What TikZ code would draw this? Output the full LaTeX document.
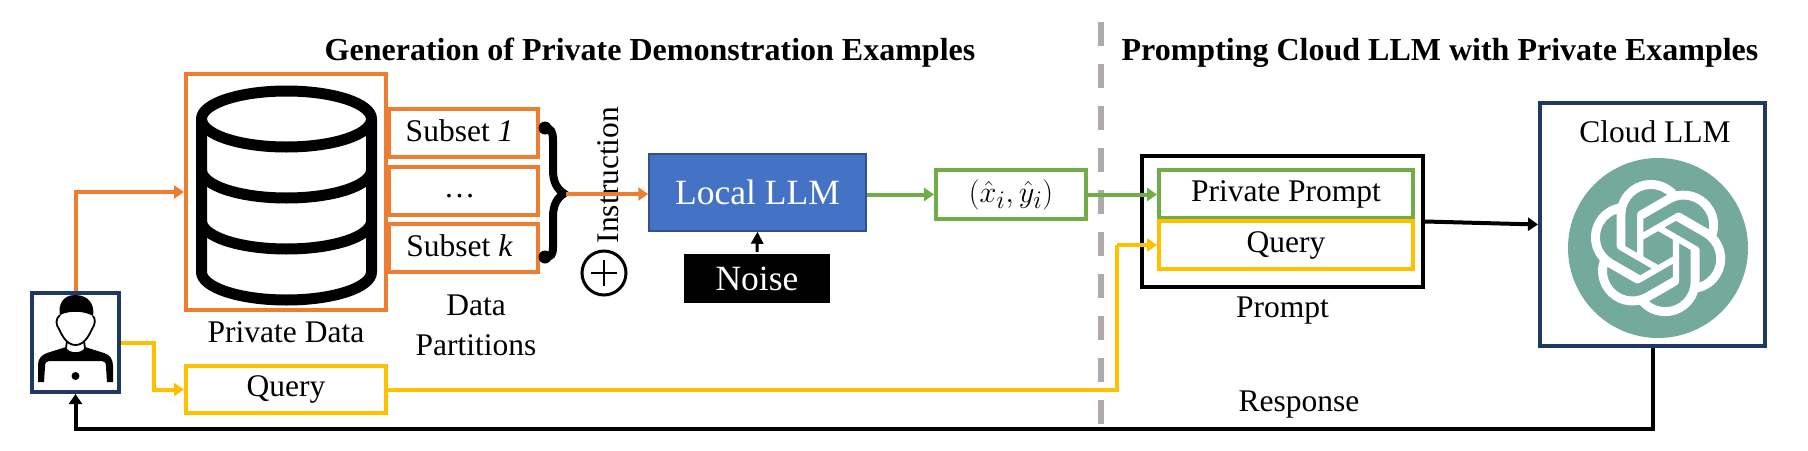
\documentclass[tikz,border=0pt]{standalone}
\usepackage{fontspec}
\setmainfont{Liberation Serif}
\usetikzlibrary{positioning,matrix,arrows.meta,svg.path}
\definecolor{partorange}{HTML}{ED7D31}
\definecolor{querygold}{HTML}{FFC000}
\definecolor{privgreen}{HTML}{70AD47}
\definecolor{boxnavy}{HTML}{1F3864}
\definecolor{llmblue}{HTML}{4472C4}
\definecolor{llmedge}{HTML}{2F528F}
\definecolor{logogreen}{HTML}{74AA9C}
\definecolor{splitgray}{HTML}{AFABAB}
\tikzset{
    flow box/.style={
        rectangle,
        line width=4pt,
        inner sep=0pt,
        align=center,
        font=\fontsize{31.5}{36}\selectfont
    },
    subset box/.style={flow box, draw=partorange, minimum width=149pt, minimum height=48pt, text height=22pt, text depth=6pt},
    plain label/.style={font=\fontsize{31.5}{38}\selectfont, align=center, inner sep=0pt},
    title label/.style={font=\fontsize{32}{36}\selectfont\bfseries, inner sep=0pt, anchor=base},
    big label/.style={font=\fontsize{35.5}{40}\selectfont, text=white, inner sep=0pt, align=center},
    flow arrow/.style={line width=4pt, -{Triangle[length=10pt,width=13pt]}},
    flow line/.style={line width=4pt}
}

\begin{document}
\begin{tikzpicture}[x=1pt,y=-1pt]
\useasboundingbox (0,0) rectangle (1808,450);

% Titles and the dashed split
\node[title label] (gentitle) at (650,60) {Generation of Private Demonstration Examples};
\node[title label] (cloudtitle) at (1440,60) {Prompting Cloud LLM with Private Examples};
\draw[splitgray, line width=6pt, dash pattern=on 24pt off 18pt] (1100.5,22) -- (1100.5,424);

% User
\node[flow box, draw=boxnavy, minimum width=87pt, minimum height=99pt] (user) at (75.5,342.5) {};
\fill (60,315) .. controls (58,306) and (62,295) .. (75,295) .. controls (89,295) and (95,305) .. (93,316)
    .. controls (85,311) and (70,310) .. (60,315) -- cycle;
\draw[line width=1.8pt] (60,315) .. controls (55,319) and (56,325) .. (59,329) .. controls (63,338) and (68,345) .. (75.5,345)
    .. controls (83,345) and (88,338) .. (92,329) .. controls (95,325) and (96,319) .. (93,316);
\draw[line width=1.8pt] (67,341) -- (66,348) (84,341) -- (85,348);
\fill (38,382) -- (38,365) .. controls (38,358) and (42,355) .. (47,353) -- (66,347)
    .. controls (68,354) and (83,354) .. (85,347) -- (104,353) .. controls (110,355) and (113,359) .. (113,366)
    -- (113,382) -- (107,382) -- (106,367) .. controls (106,363) and (105,361) .. (102,361)
    -- (49,361) .. controls (46,361) and (45,363) .. (45,367) -- (44,382) -- cycle;
\fill (75.5,376) circle (4);

% Private data
\node[flow box, draw=partorange, minimum width=200pt, minimum height=236pt] (data) at (286,192) {};
\node[plain label, below=9pt of data] (datalabel) {Private Data};
\draw[line width=11pt] (286.5,119) ellipse (85 and 28);
\draw[line width=11pt] (201.5,119) -- (201.5,272) arc[start angle=180, end angle=360, x radius=85, y radius=-28] -- (371.5,119);
\draw[line width=11pt] (201.5,170) arc[start angle=180, end angle=360, x radius=85, y radius=-28];
\draw[line width=11pt] (201.5,221) arc[start angle=180, end angle=360, x radius=85, y radius=-28];

% Data partitions
\matrix[matrix of nodes, row sep=5.5pt, nodes={subset box}, inner sep=0pt] (parts) at (463.5,190.5) {
    Subset \textit{1} \\
    \raisebox{1.5pt}{\ldots} \\
    Subset \textit{k} \\
};
\node[plain label] (partlabel) at (476,325) {Data\\[2pt]Partitions};
\draw[line width=8pt, line join=miter, miter limit=20] (545,128) .. controls (551,128) and (553,132) .. (553,140) -- (553,170)
    .. controls (553,182) and (557,189) .. (564,193.5) .. controls (557,198) and (553,205) .. (553,217) -- (553,247)
    .. controls (553,255) and (551,257) .. (545,257);
\fill (545,128) circle (6.5) (545,257) circle (6.5);
\coordinate (bracetip) at (566,194);

% Instruction
\node[plain label, rotate=90] (instr) at (608,175) {Instruction};
\node[circle, draw, line width=3pt, minimum size=44pt, inner sep=0pt] (plus) at (604,273) {};
\draw[line width=2.5pt] ([yshift=-13pt]plus.center) -- ([yshift=13pt]plus.center) ([xshift=-13pt]plus.center) -- ([xshift=13pt]plus.center);

% Local model
\node[flow box, big label, fill=llmblue, draw=llmedge, line width=1.5pt, minimum width=217pt, minimum height=77pt] (local) at (757.5,192.5) {Local LLM};
\node[flow box, big label, fill=black, minimum width=146pt, minimum height=49pt] (noise) at (757,278.5) {Noise};
\node[flow box, draw=privgreen, minimum width=150pt, minimum height=49pt] (pair) at (1011,194.5) {\scalebox{1.22}{$(\hat{x}_i,\hat{y}_i)$}};

% Query
\node[flow box, draw=querygold, minimum width=200pt, minimum height=47pt] (query) at (286,389.5) {Query};

% Prompt
\node[flow box, draw=black, minimum width=281pt, minimum height=131pt] (prompt) at (1282.5,221.5) {};
\node[flow box, draw=privgreen, minimum width=254pt, minimum height=48pt] (private) at (1286,194) {Private Prompt};
\node[flow box, draw=querygold, minimum width=254pt, minimum height=48pt] (promptquery) at (1286,245) {Query};
\node[plain label, below=8pt of prompt] (promptlabel) {Prompt};

% Cloud
\node[flow box, draw=boxnavy, minimum width=225pt, minimum height=243pt] (cloud) at (1652.5,224.5) {};
\node[plain label] (cloudlabel) at (1655,132) {Cloud LLM};
\node[circle, fill=logogreen, minimum size=180pt, inner sep=0pt] (logo) at (1658,248) {};
\begin{scope}[shift={(1590,180)}, xscale=5.67, yscale=-5.67]
\fill[white, even odd rule] svg {M22.2819 9.8211a5.9847 5.9847 0 0 0-.5157-4.9108 6.0462 6.0462 0 0 0-6.5098-2.9A6.0651 6.0651 0 0 0 4.9807 4.1818a5.9847 5.9847 0 0 0-3.9977 2.9 6.0462 6.0462 0 0 0 .7427 7.0966 5.98 5.98 0 0 0 .511 4.9107 6.051 6.051 0 0 0 6.5146 2.9001A5.9847 5.9847 0 0 0 13.2599 24a6.0557 6.0557 0 0 0 5.7718-4.2058 5.9894 5.9894 0 0 0 3.9977-2.9001 6.0557 6.0557 0 0 0-.7475-7.0729z
M13.2599 22.4292a4.4755 4.4755 0 0 1-2.8764-1.0408l.1419-.0804 4.7783-2.7582a.7948.7948 0 0 0 .3927-.6813v-6.7369l2.02 1.1686a.071.071 0 0 1 .038.052v5.5826a4.504 4.504 0 0 1-4.4945 4.4944z
M3.5992 18.3038a4.4708 4.4708 0 0 1-.5346-3.0137l.142.0852 4.783 2.7582a.7712.7712 0 0 0 .7806 0l5.8428-3.3685v2.3324a.0804.0804 0 0 1-.0332.0615L9.74 19.9502a4.4992 4.4992 0 0 1-6.1408-1.6464z
M2.3408 7.8956a4.485 4.485 0 0 1 2.3655-1.9728V11.6a.7664.7664 0 0 0 .3879.6765l5.8144 3.3543-2.0201 1.1685a.0757.0757 0 0 1-.071 0l-4.8303-2.7865A4.504 4.504 0 0 1 2.3408 7.872z
M18.9371 11.7514L13.1038 8.364 15.1192 7.2a.0757.0757 0 0 1 .071 0l4.8303 2.7913a4.4944 4.4944 0 0 1-.6765 8.1042v-5.6772a.79.79 0 0 0-.407-.667z
M20.9478 8.7283l-.142-.0852-4.7735-2.7818a.7759.7759 0 0 0-.7854 0L9.409 9.2297V6.8974a.0662.0662 0 0 1 .0284-.0615l4.8303-2.7866a4.4992 4.4992 0 0 1 6.6802 4.66z
M8.3065 12.863l-2.02-1.1638a.0804.0804 0 0 1-.038-.0567V6.0742a4.4992 4.4992 0 0 1 7.3757-3.4537l-.142.0805L8.704 5.459a.7948.7948 0 0 0-.3927.6813z
M9.4041 10.4976l2.602-1.4998 2.6069 1.4998v2.9994l-2.5974 1.4997-2.6067-1.4997Z};
\end{scope}
\node[plain label] (resplabel) at (1299,405) {Response};

% Connectors
\draw[flow arrow, partorange] (user.north) |- (data.west);
\draw[flow arrow, querygold] (user.east) -- ++(33,0) |- (query.west);
\coordinate (querybend) at (1117,245);
\draw[flow line, querygold] (query.east) -| (querybend);
\draw[flow arrow, querygold] (querybend) -- (promptquery.west);
\draw[flow arrow, partorange] (bracetip) -- (local.west |- bracetip);
\draw[flow arrow, privgreen] (local.east |- pair.west) -- (pair.west);
\draw[flow arrow, privgreen] (pair.east) -- (private.west |- pair.east);
\draw[line width=3pt, -{Triangle[length=12pt,width=12pt]}] (noise.north) -- (local.south);
\draw[flow arrow] (prompt.east) -- (cloud.west);
\draw[flow arrow] (cloud.south) -- ++(0,81) -| (user.south);

\end{tikzpicture}
\end{document}
